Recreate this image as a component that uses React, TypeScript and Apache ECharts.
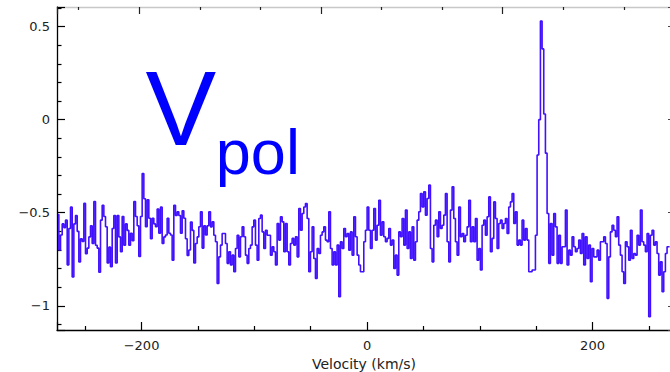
import React, { useEffect, useRef } from "react";
import * as echarts from "echarts";

// Spectrum channels: centre of first channel and channel width (km/s)
const VELOCITY_START = -274.1;
const CHANNEL_WIDTH = 1.478;

// Vpol values, left to right
const vpolA = [
  -0.51, -0.70, -0.62, -0.56, -0.58, -0.54, -0.78, -0.585, -0.47, -0.845,
  -0.56, -0.515, -0.60, -0.765, -0.64, -0.655, -0.45, -0.72, -0.69, -0.63,
  -0.57, -0.665, -0.44, -0.675, -0.69, -0.82, -0.54, -0.46, -0.52, -0.575,
  -0.77, -0.685, -0.79, -0.585, -0.515, -0.77, -0.515, -0.63, -0.71, -0.52,
  -0.675, -0.56, -0.595, -0.675, -0.61, -0.65, -0.44, -0.52, -0.57, -0.735,
  -0.52, -0.29, -0.425, -0.575, -0.43, -0.53, -0.64, -0.53, -0.56, -0.575,
  -0.48, -0.61, -0.47, -0.665, -0.63, -0.62, -0.53, -0.61, -0.62, -0.755,
  -0.46, -0.515, -0.495, -0.515, -0.61, -0.49, -0.53, -0.64, -0.73, -0.70,
  -0.55, -0.595, -0.77, -0.665, -0.63, -0.575, -0.495, -0.69, -0.57, -0.62,
  -0.57,
];
const vpolB = [
  -0.495, -0.576, -0.549, -0.621, -0.656, -0.88, -0.737, -0.674, -0.612, -0.612,
  -0.665, -0.772, -0.71, -0.781, -0.728, -0.817, -0.692, -0.621, -0.737, -0.629,
  -0.576, -0.629, -0.728, -0.772, -0.692, -0.674, -0.576, -0.54, -0.674, -0.755,
  -0.531, -0.513, -0.603, -0.692, -0.594, -0.621, -0.621, -0.728, -0.683, -0.71,
  -0.781, -0.558, -0.647, -0.522, -0.549, -0.71, -0.558, -0.71, -0.781, -0.665,
  -0.638, -0.674, -0.629, -0.737, -0.477, -0.594, -0.504, -0.469, -0.451, -0.531,
  -0.817, -0.71, -0.576, -0.746, -0.853, -0.692, -0.719, -0.621, -0.603, -0.576,
  -0.647, -0.656, -0.495, -0.692, -0.781, -0.71, -0.781, -0.674, -0.951, -0.656,
  -0.692, -0.585, -0.629, -0.612, -0.701, -0.603, -0.728, -0.522, -0.629, -0.728,
  -0.781, -0.817,
];
const vpolC = [
  -0.817, -0.656, -0.594, -0.469, -0.594, -0.692, -0.594, -0.477, -0.647, -0.567,
  -0.433, -0.621, -0.549, -0.629, -0.656, -0.638, -0.585, -0.674, -0.647, -0.799,
  -0.728, -0.835, -0.603, -0.629, -0.531, -0.674, -0.486, -0.692, -0.603, -0.746,
  -0.576, -0.755, -0.656, -0.54, -0.495, -0.397, -0.469, -0.388, -0.513, -0.424,
  -0.352, -0.692, -0.764, -0.567, -0.54, -0.629, -0.495, -0.585, -0.567, -0.513,
  -0.397, -0.656, -0.764, -0.486, -0.361, -0.531, -0.656, -0.728, -0.469, -0.629,
  -0.612, -0.656, -0.621, -0.576, -0.433, -0.656, -0.576, -0.656, -0.531, -0.755,
  -0.692, -0.808, -0.567, -0.54, -0.621, -0.522, -0.415, -0.71, -0.638, -0.442,
  -0.531, -0.692, -0.558, -0.54, -0.585, -0.558, -0.531, -0.612, -0.469, -0.442,
  -0.397, -0.558,
];
const vpolD = [
  -0.495, -0.674, -0.647, -0.674, -0.54, -0.647, -0.585, -0.647, -0.817, -0.817,
  -0.808, -0.808, -0.621, -0.19, 0.0, 0.53, 0.38, 0.03, -0.18, -0.504,
  -0.772, -0.558, -0.728, -0.504, -0.576, -0.772, -0.621, -0.772, -0.683, -0.683,
  -0.486, -0.781, -0.701, -0.728, -0.629, -0.683, -0.71, -0.692, -0.647, -0.719,
  -0.612, -0.781, -0.629, -0.746, -0.674, -0.871, -0.692, -0.737, -0.737, -0.701,
  -0.755, -0.656, -0.656, -0.629, -0.665, -0.96, -0.737, -0.603, -0.567, -0.594,
  -0.629, -0.522, -0.674, -0.728, -0.817, -0.88, -0.656, -0.683, -0.755, -0.594,
  -0.746, -0.719, -0.728, -0.621, -0.674, -0.486, -0.656, -0.674, -0.71, -0.612,
  -1.059, -0.621, -0.594, -0.674, -0.656, -0.719, -0.835, -0.764, -0.924, -0.817,
  -0.719, -0.683, -0.683,
];

// Axis ranges
const X_MIN = -275;
const X_MAX = 269.6;
const Y_MIN = -1.13;
const Y_MAX = 0.605;
const X_TICK_STEP = 200;
const Y_TICK_STEP = 0.5;
// secondary (top) axis in its own units
const TOP_MIN = -0.453;
const TOP_MAX = 2.926;

const TITLE_MAIN = "V";
const TITLE_SUB = "pol";
const X_NAME = "Velocity (km/s)";

const LINE_COLOR = "#4010ff";
const TEXT_BLUE = "#0000ff";
const AXIS_FONT = "'DejaVu Sans', Verdana, sans-serif";

const fmtMinus = (v: number) => (v < 0 ? "\u2212" + String(-v) : String(v));

export default function App() {
  const ref = useRef<HTMLDivElement>(null);

  useEffect(() => {
    if (!ref.current) return;
    const chart = echarts.init(ref.current, undefined, { renderer: "svg" });
    const values = [...vpolA, ...vpolB, ...vpolC, ...vpolD];
    const data = values.map((v, i) => [VELOCITY_START + i * CHANNEL_WIDTH, v]);

    const labelStyle = {
      color: "#222",
      fontFamily: AXIS_FONT,
      fontSize: 13,
    };

    chart.setOption({
      animation: false,
      backgroundColor: "#ffffff",
      grid: {
        left: 57,
        right: -1,
        top: 7,
        bottom: 42,
        containLabel: false,
        outerBoundsMode: "none",
      },
      xAxis: [
        {
          type: "value",
          position: "bottom",
          min: X_MIN,
          max: X_MAX,
          splitNumber: 3,
          minInterval: X_TICK_STEP,
          maxInterval: X_TICK_STEP,
          name: X_NAME,
          nameLocation: "middle",
          nameGap: 22,
          nameTextStyle: { color: "#222", fontFamily: AXIS_FONT, fontSize: 14 },
          axisLine: { show: true, onZero: false, lineStyle: { color: "#000", width: 1.3 } },
          axisTick: { show: true, inside: true, length: 8, lineStyle: { color: "#000", width: 1.2 } },
          minorTick: { show: true, splitNumber: 4, length: 4, lineStyle: { color: "#000", width: 1.2 } },
          axisLabel: {
            ...labelStyle,
            margin: 9,
            showMinLabel: false,
            showMaxLabel: false,
            formatter: fmtMinus,
          },
          splitLine: { show: false },
          minorSplitLine: { show: false },
        },
        {
          type: "value",
          position: "top",
          min: TOP_MIN,
          max: TOP_MAX,
          splitNumber: 3,
          minInterval: 1,
          maxInterval: 1,
          axisLine: { show: true, onZero: false, lineStyle: { color: "#c8c8c8", width: 1.3 } },
          axisTick: { show: true, inside: true, length: 7, lineStyle: { color: "#222", width: 1.2 } },
          minorTick: { show: true, splitNumber: 3, length: 3, lineStyle: { color: "#222", width: 1.2 } },
          axisLabel: { show: false },
          splitLine: { show: false },
        },
      ],
      yAxis: [
        {
          type: "value",
          position: "left",
          min: Y_MIN,
          max: Y_MAX,
          splitNumber: 4,
          minInterval: Y_TICK_STEP,
          maxInterval: Y_TICK_STEP,
          axisLine: { show: true, onZero: false, lineStyle: { color: "#000", width: 1.3 } },
          axisTick: { show: true, inside: true, length: 8, lineStyle: { color: "#000", width: 1.2 } },
          minorTick: { show: true, splitNumber: 5, length: 4.5, lineStyle: { color: "#000", width: 1.2 } },
          axisLabel: {
            ...labelStyle,
            margin: 7,
            showMinLabel: false,
            showMaxLabel: false,
            formatter: fmtMinus,
          },
          splitLine: { show: false },
        },
        {
          type: "value",
          position: "right",
          min: Y_MIN,
          max: Y_MAX,
          splitNumber: 4,
          minInterval: Y_TICK_STEP,
          maxInterval: Y_TICK_STEP,
          axisLine: { show: false, onZero: false },
          axisTick: { show: true, inside: true, length: 3, lineStyle: { color: "#444", width: 1 } },
          axisLabel: { show: false },
          splitLine: { show: false },
        },
      ],
      series: [
        {
          type: "line",
          xAxisIndex: 0,
          yAxisIndex: 0,
          step: "middle",
          showSymbol: false,
          symbol: "none",
          data,
          lineStyle: { color: LINE_COLOR, width: 1.6 },
          emphasis: { disabled: true },
          clip: true,
        },
      ],
      graphic: [
        {
          type: "text",
          left: 145.5,
          top: 108.3 - 53,
          silent: true,
          style: {
            text: TITLE_MAIN,
            fill: TEXT_BLUE,
            fontSize: 106,
            fontFamily: "'Liberation Sans', Arial, sans-serif",
          },
        },
        {
          type: "text",
          left: 215.8,
          top: 151.5 - 31.5,
          silent: true,
          style: {
            text: TITLE_SUB,
            fill: TEXT_BLUE,
            fontSize: 63,
            fontFamily: "'Liberation Sans', Arial, sans-serif",
          },
        },
      ],
    });

    return () => {
      chart.dispose();
    };
  }, []);

  return (
    <div
      ref={ref}
      style={{ position: "fixed", left: 0, top: 0, width: 670, height: 372, background: "#fff" }}
    />
  );
}
